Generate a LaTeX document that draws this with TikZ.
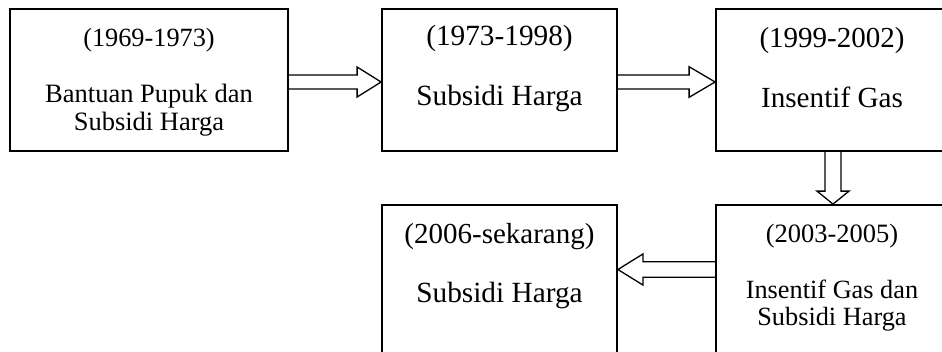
\documentclass[tikz,border=0pt]{standalone}
\usepackage{fontspec}
\setmainfont{Liberation Serif}
\usetikzlibrary{calc}
\newcommand{\boxwidth}{1.8pt}
\newcommand{\arrowwidth}{1.3pt}
% hollow block arrow: start, tip, head length, shaft half width, head half width
\newcommand{\blockarrow}[5]{%
\coordinate (h) at ($(#2)!#3!(#1)$);
\draw[arrowline] ($(#1)!#4!90:(#2)$) -- ($(h)!#4!90:(#2)$) -- ($(h)!#5!90:(#2)$) -- (#2) -- ($(h)!#5!-90:(#2)$) -- ($(h)!#4!-90:(#2)$) -- ($(#1)!#4!-90:(#2)$);
}

\begin{document}
\begin{tikzpicture}[x=1pt, y=-1pt,
  period/.style={draw, line width=\boxwidth, inner sep=0pt},
  txt/.style={anchor=base, inner sep=0pt, align=center},
  arrowline/.style={line width=\arrowwidth, line join=miter}]
\useasboundingbox (0,0) rectangle (942,351);
%boxes
\node[period, minimum width=278, minimum height=142] (1) at (149,80) {};
\node[period, minimum width=235, minimum height=142] (2) at (499.5,80) {};
\node[period, minimum width=232, minimum height=142] (3) at (832,80) {};
\node[period, minimum width=232, minimum height=155] (4) at (832,282.5) {};
\node[period, minimum width=235, minimum height=155] (5) at (499.5,282.5) {};
%texts (base = last line)
\node[txt, font=\fontsize{26.3}{27}\selectfont] (y1) at (149,46) {(1969-1973)};
\node[txt, font=\fontsize{26.5}{27.3}\selectfont] (t1) at (149,130) {Bantuan Pupuk dan\\Subsidi Harga};
\node[txt, font=\fontsize{29.3}{30}\selectfont] (y2) at (499.5,45) {(1973-1998)};
\node[txt, font=\fontsize{29.3}{30}\selectfont] (t2) at (499.5,105) {Subsidi Harga};
\node[txt, font=\fontsize{29}{30}\selectfont] (y3) at (832,47) {(1999-2002)};
\node[txt, font=\fontsize{29.2}{30}\selectfont] (t3) at (832,107) {Insentif Gas};
\node[txt, font=\fontsize{26.5}{27}\selectfont] (y4) at (832,242.3) {(2003-2005)};
\node[txt, font=\fontsize{26.3}{26.7}\selectfont] (t4) at (832,325) {Insentif Gas dan\\Subsidi Harga};
\node[txt, font=\fontsize{29}{30}\selectfont] (y5) at (499.5,243) {(2006-sekarang)};
\node[txt, font=\fontsize{29.3}{30}\selectfont] (t5) at (499.5,302) {Subsidi Harga};
%arrows
\coordinate (a1) at ([yshift=-2pt]1.east);
\coordinate (b1) at ([yshift=-2pt]2.west);
\blockarrow{a1}{b1}{24pt}{7pt}{15pt}
\coordinate (a2) at ([yshift=-2pt]2.east);
\coordinate (b2) at ([yshift=-2pt]3.west);
\blockarrow{a2}{b2}{26pt}{7pt}{15.3pt}
\coordinate (a3) at ([xshift=1pt]3.south);
\coordinate (b3) at ([xshift=1pt]4.north);
\blockarrow{a3}{b3}{13pt}{8pt}{16pt}
\coordinate (a4) at ([yshift=13pt]4.west);
\coordinate (b4) at ([yshift=13pt]5.east);
\blockarrow{a4}{b4}{25pt}{7.8pt}{15.5pt}
\end{tikzpicture}
\end{document}
